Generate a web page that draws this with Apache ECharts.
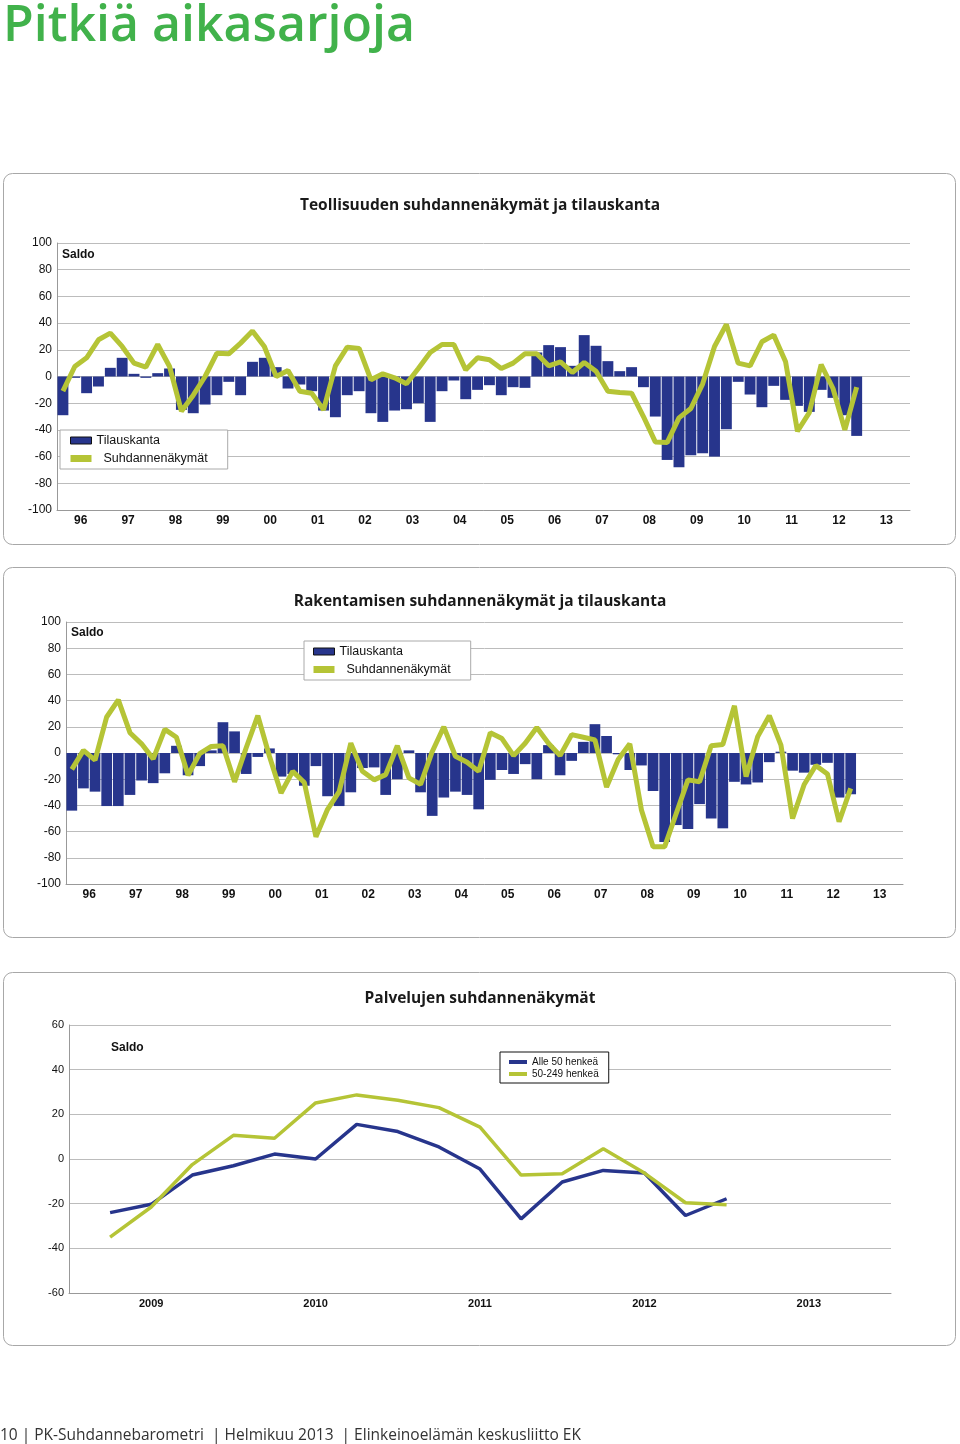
<!DOCTYPE html>
<html><head><meta charset="utf-8">
<script src="https://cdn.jsdelivr.net/npm/echarts@6/dist/echarts.min.js"></script>
<style>html,body{margin:0;padding:0;background:#fff}#c{width:960px;height:1444px}</style>
</head><body><div id="c"></div>
<script>
// ---------- data ----------
const years = ['96','97','98','99','00','01','02','03','04','05','06','07','08','09','10','11','12','13'];
const quarterNames = ['I','II','III','IV'];
const quarters = years.flatMap(y => quarterNames.map(q => y + '/' + q));

// Teollisuus (industry), 1996/I .. 2012/IV
const teollisuusTilauskanta = [
  -29, -1, -12.5, -7.5,   6.5, 14, 2, -1,   2.5, 6, -25, -27.5,   -21, -14, -4, -14,
  11, 14, 7, -9,   -6, -11, -25.5, -30.5,   -14, -11, -27.5, -34,   -25.5, -24.5, -20, -34,
  -11, -3, -17, -10,   -6.5, -14, -8, -8.5,   18, 23.5, 22, 8,   31, 23, 11.5, 4,
  7, -8, -30, -62.5,   -68, -59, -57.5, -60,   -39.5, -4, -13.5, -23,   -7, -17.5, -22, -26.5,
  -10, -16, -29, -44.5
];
const teollisuusNakymat = [
  -11, 7.5, 14, 27.5,   32.5, 22.5, 10, 7,   24, 7.5, -26, -14,   0, 17.5, 17, 25,
  34, 22.5, 0, 4.5,   -11, -12.5, -25, 8,   22, 21, -2.5, 2,   -1, -5.5, 6, 18,
  24, 24, 5, 14,   12.5, 6, 10, 17,   17, 8, 11, 3,   10.5, 4, -11, -12,
  -12.5, -30, -49, -49.5,   -31, -24, -5.5, 22.5,   39, 10, 8, 26,   31, 11, -41, -27,
  9, -9, -40, -8
];

// Rakentaminen (construction), 1996/I .. 2012/IV
const rakentaminenTilauskanta = [
  -44, -27, -29.5, -40.5,   -40.5, -32, -21, -23,   -15.5, 5.5, -17, -10,   2, 23.5, 16.5, -16,
  -3, 3.5, -18, -16,   -25, -10, -33, -40.5,   -30, -11.5, -11, -32,   -20, 2, -30, -48,
  -34, -29.5, -32, -43,   -20.5, -13, -16, -8.5,   -20, 6, -17, -6,   8.5, 22, 13, -1,
  -13, -9.5, -29, -68,   -55, -58, -39, -50,   -57.5, -22, -24, -22.5,   -7, 1, -13.5, -15,
  -9, -7.5, -34, -31.5
];
const rakentaminenNakymat = [
  -12.5, 2, -5.5, 27.5,   40.5, 15.5, 7, -4.5,   18, 12, -17, -0.5,   5, 5.5, -22, 4,
  28.5, -2.5, -30.5, -14,   -22.5, -64, -43, -29.5,   7.5, -14, -20.5, -16.5,   5.5, -19, -24, 1,
  20, -2.5, -7, -14,   15.5, 11, -2, 7.5,   19.5, 7.5, -2, 14,   12, 10, -26, -5,
  7, -43.5, -71.5, -71.5,   -46, -20.5, -22, 5.5,   6.5, 36, -18, 12.5,   28.5, 6, -50, -24,
  -9.5, -16, -52.5, -27
];

// Palvelut (services)
const palvYears = ['2009','2010','2011','2012','2013'];
// quarter boundaries 2009/I .. 2014/I (21 positions); data from 2009/II .. 2013/I
const palvPoints = palvYears.flatMap(y => quarterNames.map(q => y + '/' + q)).concat(['2014/I']);
const palvAlle50 = [-24, -20.3, -7.2, -3, 2.2, 0, 15.5, 12.3, 5.4, -4.5, -26.8, -10.3, -5.1, -6.3, -25.3, -17.8];
const palv50_249 = [-35, -21.5, -2.5, 10.6, 9.3, 25.1, 28.7, 26.3, 23, 14.3, -7.2, -6.6, 4.6, -6.3, -19.6, -20.5];

const saldoTicks1 = {min: -100, max: 100, interval: 20};
const saldoTicks3 = {min: -60, max: 60, interval: 20};

// ---------- style ----------
const NAVY = '#27358c';
const GREEN = '#b5c436';
const GRID_C = '#bcbcbc';
const AXIS_C = '#999';
const SANS = '"Liberation Sans", Arial, Helvetica, sans-serif';
const HEAD = '"Open Sans", "Noto Sans", sans-serif';

function hiddenX(grid, data, bg) {
  return {type: 'category', gridIndex: grid, data: data, boundaryGap: bg, show: false};
}
function yearX(grid, data, fs) {
  return {
    type: 'category', gridIndex: grid, data: data, position: 'bottom', boundaryGap: true,
    axisLine: {lineStyle: {color: AXIS_C, width: 1}},
    axisTick: {inside: true, length: 5, lineStyle: {color: AXIS_C}},
    axisLabel: {fontFamily: SANS, fontWeight: 'bold', fontSize: fs, color: '#111', margin: 5},
    splitLine: {show: false}
  };
}
function valY(grid, t, fs) {
  return {
    type: 'value', gridIndex: grid, min: t.min, max: t.max, interval: t.interval,
    axisLine: {show: true, lineStyle: {color: AXIS_C}},
    axisTick: {show: false},
    axisLabel: {fontFamily: SANS, fontSize: fs, color: '#111', margin: 5},
    splitLine: {lineStyle: {color: GRID_C, width: 1}}
  };
}
function panel(y, h) {
  return {type: 'rect', z: -10, shape: {x: 3.5, y: y + 0.5, width: 952, height: h, r: 9},
    style: {fill: '#fff', stroke: '#a8a8a8', lineWidth: 1}};
}
function label(x, y, text) {
  return {type: 'text', z: 10, x: x, y: y,
    style: {text: text, font: 'bold 12px ' + SANS, fill: '#111', textVerticalAlign: 'middle', verticalAlign: 'middle'}};
}
const chartTitle = (text, top) => ({text: text, left: 'center', top: top, padding: 0,
  textStyle: {fontFamily: HEAD, fontWeight: 'bold', fontSize: 15.5, color: '#1a1a1a'}});

const legendBase = {
  orient: 'vertical', selectedMode: false, borderWidth: 1, backgroundColor: '#fff',
  itemWidth: 21, itemHeight: 7, itemGap: 5,
  textStyle: {fontFamily: SANS, fontSize: 12.5, color: '#111'},
  formatter: n => n === 'Suhdannenäkymät' ? '  ' + n : n
};
const barLegendData = [
  {name: 'Tilauskanta', icon: 'rect', itemStyle: {color: NAVY, borderColor: '#111', borderWidth: 1}},
  {name: 'Suhdannenäkymät', icon: 'rect', itemStyle: {color: GREEN, borderWidth: 0}}
];

const option = {
  backgroundColor: '#fff',
  animation: false,
  title: [
    {text: 'Pitkiä aikasarjoja', left: 3, top: 2, padding: 0,
      textStyle: {fontFamily: HEAD, fontWeight: 600, fontSize: 50, color: '#41b24b'}},
    chartTitle('Teollisuuden suhdannenäkymät ja tilauskanta', 198),
    chartTitle('Rakentamisen suhdannenäkymät ja tilauskanta', 594),
    chartTitle('Palvelujen suhdannenäkymät', 991),
    {text: '10 | PK-Suhdannebarometri  | Helmikuu 2013  | Elinkeinoelämän keskusliitto EK', left: 0, top: 1428, padding: 0,
      textStyle: {fontFamily: HEAD, fontWeight: 'normal', fontSize: 15.5, color: '#333'}}
  ],
  legend: [
    Object.assign({}, legendBase, {left: 60, top: 430, padding: [4, 20, 4, 10], borderColor: '#aaa',
      data: barLegendData}),
    Object.assign({}, legendBase, {left: 304, top: 641, padding: [4, 20, 4, 9], borderColor: '#aaa',
      data: barLegendData}),
    {orient: 'vertical', selectedMode: false, left: 500, top: 1052, padding: [5, 10, 4, 9],
      borderColor: '#111', borderWidth: 1, backgroundColor: '#fff', itemWidth: 18, itemHeight: 4, itemGap: 2,
      textStyle: {fontFamily: SANS, fontSize: 10, color: '#111'},
      data: [{name: 'Alle 50 henkeä', icon: 'rect', itemStyle: {color: NAVY}},
             {name: '50-249 henkeä', icon: 'rect', itemStyle: {color: GREEN}}]}
  ],
  grid: [
    {left: 57, top: 243, width: 853, height: 267},
    {left: 66, top: 622, width: 837, height: 262},
    {left: 69, top: 1025, width: 822, height: 268}
  ],
  xAxis: [
    hiddenX(0, quarters, true), yearX(0, years, 12),
    hiddenX(1, quarters, true), yearX(1, years, 12),
    hiddenX(2, palvPoints, false), yearX(2, palvYears, 11)
  ],
  yAxis: [valY(0, saldoTicks1, 12), valY(1, saldoTicks1, 12), valY(2, saldoTicks3, 11)],
  series: [
    {name: 'Tilauskanta', type: 'bar', xAxisIndex: 0, yAxisIndex: 0, data: teollisuusTilauskanta,
      barCategoryGap: '8%', itemStyle: {color: NAVY}},
    {name: 'Suhdannenäkymät', type: 'line', xAxisIndex: 0, yAxisIndex: 0, data: teollisuusNakymat,
      symbol: 'none', z: 3, lineStyle: {color: GREEN, width: 5}, itemStyle: {color: GREEN}},
    {name: 'Tilauskanta', type: 'bar', xAxisIndex: 2, yAxisIndex: 1, data: rakentaminenTilauskanta,
      barCategoryGap: '8%', itemStyle: {color: NAVY}},
    {name: 'Suhdannenäkymät', type: 'line', xAxisIndex: 2, yAxisIndex: 1, data: rakentaminenNakymat,
      symbol: 'none', z: 3, lineStyle: {color: GREEN, width: 5}, itemStyle: {color: GREEN}},
    {name: 'Alle 50 henkeä', type: 'line', xAxisIndex: 4, yAxisIndex: 2, data: [null].concat(palvAlle50),
      symbol: 'none', lineStyle: {color: NAVY, width: 3.5}, itemStyle: {color: NAVY}},
    {name: '50-249 henkeä', type: 'line', xAxisIndex: 4, yAxisIndex: 2, data: [null].concat(palv50_249),
      symbol: 'none', lineStyle: {color: GREEN, width: 3.5}, itemStyle: {color: GREEN}}
  ],
  graphic: [
    panel(173, 371), panel(567, 370), panel(972, 373),
    label(62, 255, 'Saldo'), label(71, 633, 'Saldo'), label(111, 1048, 'Saldo')
  ]
};

const chart = echarts.init(document.getElementById('c'), null, {renderer: 'canvas'});
chart.setOption(option);
</script>
</body></html>
